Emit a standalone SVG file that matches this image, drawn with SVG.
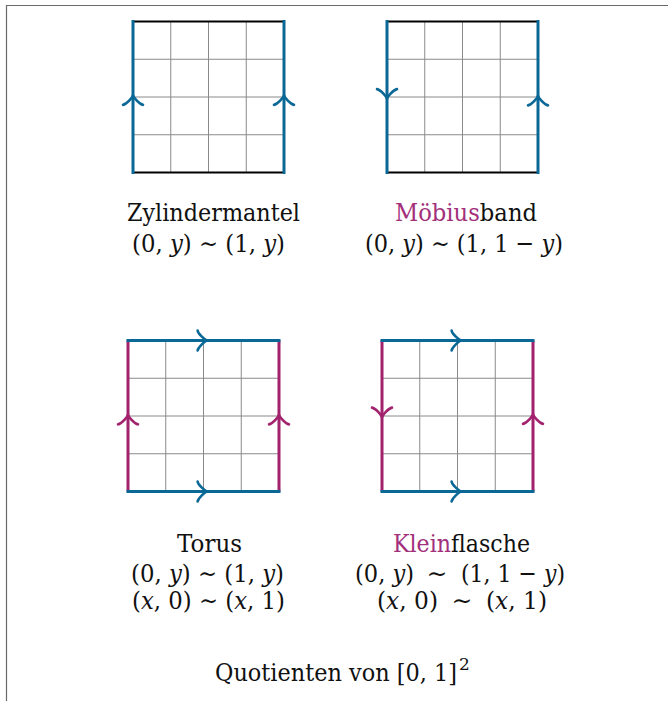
<svg xmlns="http://www.w3.org/2000/svg" width="668" height="702" viewBox="0 0 668 702" font-family="'DejaVu Serif', 'Liberation Serif', serif">
<style>
.grid{stroke:#8a8a8a;stroke-width:1;fill:none}
.blk{stroke:#000;stroke-width:2.2;fill:none}
.blu{stroke:#0a6896;stroke-width:3;fill:none;stroke-linecap:butt}
.mag{stroke:#a2226e;stroke-width:3;fill:none}
.ab{stroke:#0a6896}
.am{stroke:#a2226e}
.frame{stroke:#6a6a6a;stroke-width:1.2;fill:none}
.t{font-family:'DejaVu Serif','Liberation Serif',serif;font-size:25px;fill:#111}
.it{font-style:italic}
.pk{fill:#a2307a}
</style>
<defs>
<path id="arr" d="M -10,9.4 C -6.25,8.75 -0.6,1.9 0,0 C 0.6,1.9 6.25,8.75 10,9.4" fill="none" stroke-width="2.6" stroke-linecap="round"/>
<path id="g" d="M 37.75,0 V 151 M 75.5,0 V 151 M 113.25,0 V 151 M 0,37.75 H 151 M 0,75.5 H 151 M 0,113.25 H 151"/>
</defs>
<path class="frame" d="M 6.5,701 V 5.5 H 668"/>
<g id="zylinder">
<use href="#g" class="grid" transform="translate(133,21.5)"/>
<path class="blk" d="M 133,21.5 H 284 M 133,172.5 H 284"/>
<path class="blu" d="M 133,20 V 174 M 284,20 V 174"/>
<use href="#arr" class="ab" transform="translate(133,95.5)"/>
<use href="#arr" class="ab" transform="translate(284,95.5)"/>
<text class="t" x="213.5" y="221" text-anchor="middle" textLength="173" lengthAdjust="spacingAndGlyphs">Zylindermantel</text>
<text class="t" x="208.5" y="252" text-anchor="middle" textLength="153" lengthAdjust="spacingAndGlyphs">(0,<tspan class="it"> y</tspan>) ∼ (1,<tspan class="it"> y</tspan>)</text>
</g>
<g id="moebius">
<use href="#g" class="grid" transform="translate(387,21.5)"/>
<path class="blk" d="M 387,21.5 H 538 M 387,172.5 H 538"/>
<path class="blu" d="M 387,20 V 174 M 538,20 V 174"/>
<use href="#arr" class="ab" transform="translate(387,98.5) rotate(180)"/>
<use href="#arr" class="ab" transform="translate(538,96)"/>
<text class="t" x="466" y="221" text-anchor="middle" textLength="142" lengthAdjust="spacingAndGlyphs"><tspan class="pk">Möbius</tspan>band</text>
<text class="t" x="464" y="252" text-anchor="middle" textLength="198" lengthAdjust="spacingAndGlyphs">(0,<tspan class="it"> y</tspan>) ∼ (1, 1 − <tspan class="it">y</tspan>)</text>
</g>
<g id="torus">
<use href="#g" class="grid" transform="translate(128,340.5)"/>
<path class="mag" d="M 128,340.5 V 491.5 M 279,340.5 V 491.5"/>
<path class="blu" d="M 126.5,340.5 H 280.5 M 126.5,491.5 H 280.5"/>
<use href="#arr" class="ab" transform="translate(207,340.5) rotate(90)"/>
<use href="#arr" class="ab" transform="translate(207,491.5) rotate(90)"/>
<use href="#arr" class="am" transform="translate(128,415)"/>
<use href="#arr" class="am" transform="translate(279,415)"/>
<text class="t" x="209.5" y="552" text-anchor="middle" textLength="65" lengthAdjust="spacingAndGlyphs">Torus</text>
<text class="t" x="207.5" y="582" text-anchor="middle" textLength="153" lengthAdjust="spacingAndGlyphs">(0,<tspan class="it"> y</tspan>) ∼ (1,<tspan class="it"> y</tspan>)</text>
<text class="t" x="208.5" y="609" text-anchor="middle" textLength="153" lengthAdjust="spacingAndGlyphs">(<tspan class="it">x</tspan>, 0) ∼ (<tspan class="it">x</tspan>, 1)</text>
</g>
<g id="klein">
<use href="#g" class="grid" transform="translate(382,340.5)"/>
<path class="mag" d="M 382,340.5 V 491.5 M 533,340.5 V 491.5"/>
<path class="blu" d="M 380.5,340.5 H 534.5 M 380.5,491.5 H 534.5"/>
<use href="#arr" class="ab" transform="translate(461,340.5) rotate(90)"/>
<use href="#arr" class="ab" transform="translate(461,491.5) rotate(90)"/>
<use href="#arr" class="am" transform="translate(382,417) rotate(180)"/>
<use href="#arr" class="am" transform="translate(533,414.5)"/>
<text class="t" x="461.5" y="552" text-anchor="middle" textLength="137" lengthAdjust="spacingAndGlyphs"><tspan class="pk">Klein</tspan>flasche</text>
<text class="t" x="355" y="582" textLength="59" lengthAdjust="spacingAndGlyphs">(0,<tspan class="it"> y</tspan>)</text>
<text class="t" x="437" y="582" text-anchor="middle">∼</text>
<text class="t" x="461" y="582" textLength="104" lengthAdjust="spacingAndGlyphs">(1, 1 − <tspan class="it">y</tspan>)</text>
<text class="t" x="377" y="609" textLength="61" lengthAdjust="spacingAndGlyphs">(<tspan class="it">x</tspan>, 0)</text>
<text class="t" x="462" y="609" text-anchor="middle">∼</text>
<text class="t" x="486" y="609" textLength="61" lengthAdjust="spacingAndGlyphs">(<tspan class="it">x</tspan>, 1)</text>
</g>
<g id="caption">
<text class="t" x="215" y="681" textLength="242" lengthAdjust="spacingAndGlyphs">Quotienten von [0, 1]</text>
<text class="t" x="459" y="670" style="font-size:17px">2</text>
</g>
</svg>
